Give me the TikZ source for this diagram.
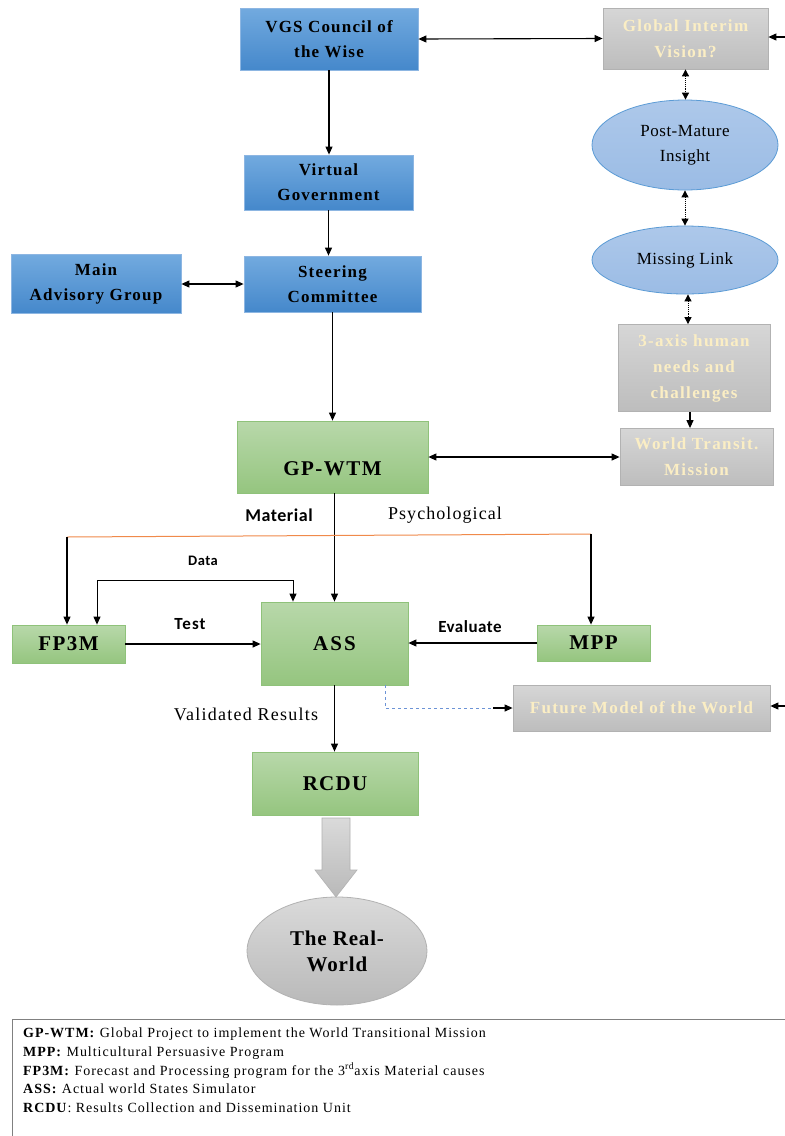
\documentclass[tikz,border=0pt]{standalone}
\usepackage{fontspec}
\setmainfont{Liberation Serif}
\newfontfamily\calfont{Carlito}
\newcommand\lsp[1]{\addfontfeatures{LetterSpace=#1}}
\usetikzlibrary{arrows.meta,shapes.geometric}
\definecolor{bluetop}{HTML}{72AADF}
\definecolor{bluebot}{HTML}{4588CB}
\definecolor{bluebd}{HTML}{8DB6E2}
\definecolor{graytop}{HTML}{D6D6D6}
\definecolor{graybot}{HTML}{BDBDBD}
\definecolor{graybd}{HTML}{B2B2B2}
\definecolor{cream}{HTML}{FBEEC4}
\definecolor{elltop}{HTML}{ADC8EA}
\definecolor{ellbot}{HTML}{9BBCE5}
\definecolor{ellbd}{HTML}{5B9BD5}
\definecolor{greentop}{HTML}{B8D8AA}
\definecolor{greenbot}{HTML}{95C57F}
\definecolor{greenbd}{HTML}{8FC27A}
\definecolor{rwtop}{HTML}{DADADA}
\definecolor{rwbot}{HTML}{B9B9B9}
\definecolor{orangeline}{HTML}{F08A4B}
\definecolor{dashblue}{HTML}{6C93D6}
\tikzset{
  bluebox/.style={draw=bluebd, line width=0.8pt, top color=bluetop, bottom color=bluebot, align=center, inner sep=0pt, font=\bfseries\fontsize{17}{25}\selectfont\lsp{7}},
  graybox/.style={draw=graybd, line width=0.8pt, top color=graytop, bottom color=graybot, align=center, inner sep=0pt, text=cream, font=\bfseries\fontsize{17}{26}\selectfont\lsp{8}},
  greenbox/.style={draw=greenbd, line width=0.8pt, top color=greentop, bottom color=greenbot, align=center, inner sep=0pt, font=\bfseries\fontsize{21}{25}\selectfont\lsp{7}},
  ell/.style={ellipse, draw=ellbd, line width=0.8pt, top color=elltop, bottom color=ellbot, align=center, inner sep=0pt, font=\fontsize{17}{25}\selectfont\lsp{3}},
  grayell/.style={ellipse, draw=graybd, line width=0.8pt, top color=rwtop, bottom color=rwbot, align=center, inner sep=0pt, font=\bfseries\fontsize{21}{26}\selectfont\lsp{4}},
  arr/.style={line width=1.1pt, -{Triangle[length=8pt,width=7pt]}},
  dbl/.style={line width=1.1pt, {Triangle[length=8pt,width=7pt]}-{Triangle[length=8pt,width=7pt]}},
  dotdbl/.style={line width=0.9pt, densely dotted, {Triangle[length=7pt,width=7pt]}-{Triangle[length=7pt,width=7pt]}},
  lbl/.style={inner sep=0pt},
}
\begin{document}
\begin{tikzpicture}[x=1pt,y=-1pt]
\useasboundingbox (0,0) rectangle (785,1136);
\fill[white] (0,0) rectangle (785,1136);

% nodes
\node[bluebox, minimum width=178pt, minimum height=62pt] (vgs) at (329,39) {VGS Council of\\the Wise};
\node[graybox, minimum width=165pt, minimum height=61pt] (giv) at (685.5,38.5) {Global Interim\\Vision?};
\node[ell, minimum width=186pt, minimum height=90pt] (pmi) at (685,145) {Post-Mature\\Insight};
\node[ell, minimum width=186pt, minimum height=68pt] (ml) at (685,260) {Missing Link};
\node[graybox, minimum width=152pt, minimum height=87pt] (tax) at (694,368) {3-axis human\\needs and\\challenges};
\node[graybox, minimum width=153pt, minimum height=57pt] (wtm) at (696.5,457) {World Transit.\\Mission};
\node[bluebox, minimum width=169pt, minimum height=55pt] (vg) at (328.5,182.5) {Virtual\\Government};
\node[bluebox, minimum width=170pt, minimum height=59pt] (mag) at (96,284) {Main\\Advisory Group};
\node[bluebox, minimum width=177pt, minimum height=56pt] (sc) at (332.5,284) {Steering\\Committee};
\node[greenbox, minimum width=191pt, minimum height=72pt] (gp) at (332.5,457) {\raisebox{-18pt}[0pt][0pt]{GP-WTM}};
\node[greenbox, minimum width=113pt, minimum height=38pt] (fp) at (68.5,644) {FP3M};
\node[greenbox, minimum width=147pt, minimum height=83pt, font=\bfseries\fontsize{21}{25}\selectfont\lsp{10}] (ass) at (334.5,643.5) {ASS};
\node[greenbox, minimum width=113pt, minimum height=36pt] (mpp) at (593.5,643) {MPP};
\node[graybox, minimum width=257pt, minimum height=46pt] (fm) at (641.5,708) {Future Model of the World};
\node[greenbox, minimum width=166pt, minimum height=63pt, font=\bfseries\fontsize{21}{24}\selectfont\lsp{6}] (rc) at (335,783.5) {RCDU};
\node[grayell, minimum width=180pt, minimum height=108pt] (rw) at (337,951) {The Real-\\World};

% labels
\node[lbl, font=\calfont\bfseries\fontsize{18}{18}\selectfont\lsp{3}] (lmat) at (279,515) {Material};
\node[lbl, font=\fontsize{18}{18}\selectfont\lsp{6}] (lpsy) at (445,515) {Psychological};
\node[lbl, font=\calfont\bfseries\fontsize{14.5}{14.5}\selectfont\lsp{3}] (ldata) at (203,561) {Data};
\node[lbl, font=\calfont\bfseries\fontsize{17}{17}\selectfont\lsp{6}] (ltest) at (190,624) {Test};
\node[lbl, font=\calfont\bfseries\fontsize{17}{17}\selectfont\lsp{3}] (leval) at (470,627) {Evaluate};
\node[lbl, font=\fontsize{18}{18}\selectfont\lsp{7}] (lval) at (246,714) {Validated Results};

% connectors
\draw[dbl] (vgs.east) -- (giv.west);
\draw[arr] (vgs.south) -- (vgs.south |- vg.north);
\draw[arr] (vg.south) -- (vg.south |- sc.north);
\draw[dbl] (mag.east) -- (sc.west);
\draw[arr] (sc.south) -- (sc.south |- gp.north);
\draw[dbl] (gp.east) -- (gp.east -| wtm.west);
\draw[dotdbl] (giv.south) -- (giv.south |- pmi.north);
\draw[dotdbl] (pmi.south) -- (ml.north);
\coordinate (mlx) at (688,0);
\draw[dotdbl] (ml.south -| mlx) -- (tax.north -| mlx);
\coordinate (tx) at (690,0);
\draw[arr] (tax.south -| tx) -- (wtm.north -| tx);
\coordinate (rin1) at (795,37);
\draw[arr] (rin1) -- (rin1 -| giv.east);
\coordinate (rin2) at (795,706);
\draw[arr] (rin2) -- (rin2 -| fm.east);

\draw[arr] (gp.south -| ass.north) -- (ass.north);
\coordinate (ol) at (67,537);
\coordinate (or) at (591,534);
\draw[orangeline, line width=1pt] (ol) -- (or);
\draw[arr] (ol) -- (ol |- fp.north);
\draw[arr] (or) -- (or |- mpp.north);
\coordinate (d1) at (97,580);
\coordinate (d2) at (293,580);
\draw[dbl, line width=1pt] (fp.north -| d1) -- (d1) -- (d2) -- (d2 |- ass.north);
\draw[arr] (fp.east) -- (fp.east -| ass.west);
\draw[arr] (mpp.west) -- (mpp.west -| ass.east);
\coordinate (dsh) at (385,708);
\coordinate (dshe) at (493,708);
\draw[dashblue, dashed, line width=1pt] (ass.south -| dsh) -- (dsh) -- (dshe);
\draw[arr] (dshe) -- (fm.west);
\draw[arr] (ass.south) -- (ass.south |- rc.north);

% block arrow
\shade[top color=rwtop, bottom color=rwbot, draw=graybd, line width=0.6pt]
  (322,818) -- (350,818) -- (350,870) -- (357,870) -- (336,897) -- (315,870) -- (322,870) -- cycle;

% legend
\draw[gray, line width=1pt] (12,1145) -- (12,1019) -- (800,1019);
\node[anchor=north west, align=left, inner sep=0pt, font=\fontsize{14}{18.6}\selectfont\lsp{7}] (leg) at (23,1028)
{\textbf{GP-WTM:} Global Project to implement the World Transitional Mission\\
\textbf{MPP:} Multicultural Persuasive Program\\
\textbf{FP3M:} Forecast and Processing program for the 3\textsuperscript{rd}axis Material causes\\
\textbf{ASS:} Actual world States Simulator\\
\textbf{RCDU}: Results Collection and Dissemination Unit};
\end{tikzpicture}
\end{document}
